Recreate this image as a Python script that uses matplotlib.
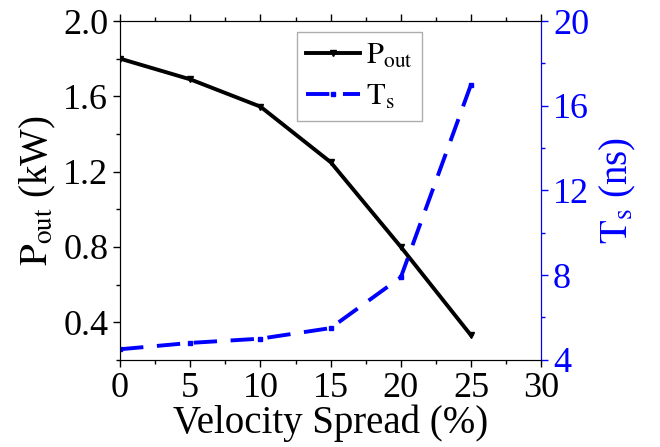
import matplotlib
matplotlib.use("Agg")
import matplotlib.pyplot as plt
from matplotlib.ticker import MultipleLocator, FormatStrFormatter

# data
spread = [0, 5, 10, 15, 20, 25]
p_out = [1.80, 1.69, 1.545, 1.25, 0.80, 0.33]
t_s = [4.5, 4.8, 5.0, 5.5, 7.9, 17.0]

plt.rcParams['font.family'] = ['Liberation Serif', 'DejaVu Serif']
plt.rcParams['mathtext.fontset'] = 'stix'

fig = plt.figure(figsize=(6.6, 4.47), dpi=100)
ax = fig.add_axes([0.182, 0.195, 0.638, 0.758])
ax2 = ax.twinx()

l1, = ax.plot(spread, p_out, color='black', lw=2.8, marker='v', ms=5,
              label=r'$\mathrm{P_{out}}$')
l2, = ax2.plot(spread, t_s, color='blue', lw=2.8, ls=(0, (6, 3.5)),
               marker='s', ms=3, label=r'$\mathrm{T_{s}}$')

ax.set_xlim(0, 30)
ax.set_ylim(0.2, 2.0)
ax2.set_ylim(4, 20)

ax.xaxis.set_major_locator(MultipleLocator(5))
ax.xaxis.set_minor_locator(MultipleLocator(2.5))
ax.yaxis.set_major_locator(MultipleLocator(0.4))
ax.yaxis.set_minor_locator(MultipleLocator(0.2))
ax2.yaxis.set_major_locator(MultipleLocator(4))
ax2.yaxis.set_minor_locator(MultipleLocator(2))
ax.yaxis.set_major_formatter(FormatStrFormatter('%.1f'))

ax.tick_params(axis='both', which='major', direction='out', length=5, width=1,
               labelsize=26, top=True)
ax.tick_params(axis='both', which='minor', direction='out', length=3, width=1, top=True)
ax2.tick_params(axis='y', which='major', direction='out', length=5, width=1,
                labelsize=26, colors='blue')
ax2.tick_params(axis='y', which='minor', direction='out', length=3, width=1, colors='blue')
ax2.spines['right'].set_color('blue')
for s in ['left', 'bottom', 'top']:
    ax.spines[s].set_color('#333333')

ax.set_xlabel('Velocity Spread (%)', fontsize=28, labelpad=0)
ax.set_ylabel(r'$\mathrm{P_{out}}$ (kW)', fontsize=28, labelpad=4)
ax2.set_ylabel(r'$\mathrm{T_{s}}$ (ns)', fontsize=28, color='blue', labelpad=6)

leg = ax.legend(handles=[l1, l2], loc='upper left', bbox_to_anchor=(0.42, 0.967),
                fontsize=22, frameon=True, fancybox=False, edgecolor='#999999',
                handlelength=1.75, handletextpad=0.2, borderpad=0.3,
                labelspacing=0.4, borderaxespad=0)
leg.get_frame().set_linewidth(1)

fig.savefig('out.png', dpi=100)
